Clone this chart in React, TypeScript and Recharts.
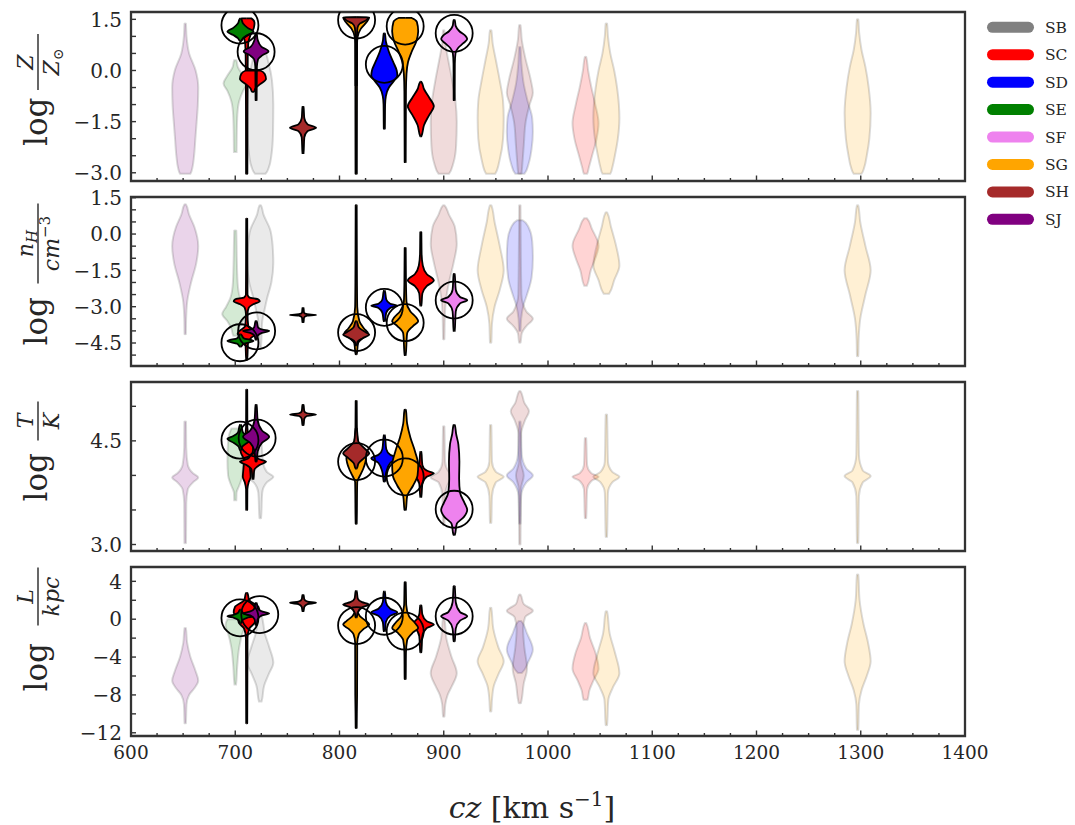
import React from "react";
import { ComposedChart, Area, Scatter, XAxis, YAxis, ReferenceArea } from "recharts";

// ---------- groups ----------
const groups = ["SB", "SC", "SD", "SE", "SF", "SG", "SH", "SJ"];
const groupColors: Record<string, string> = {
  SB: "#808080",
  SC: "#ff0000",
  SD: "#0000ff",
  SE: "#008000",
  SF: "#ee82ee",
  SG: "#ffa500",
  SH: "#a52a2a",
  SJ: "#800080",
};

// ---------- axis ticks ----------
const czMajorTicks = [600, 700, 800, 900, 1000, 1100, 1200, 1300, 1400];
const metallicityTicks = [-3, -2.5, -2, -1.5, -1, -0.5, 0, 0.5, 1, 1.5];
const metallicityLabels = [-3, -1.5, 0, 1.5];
const densityTicks = [-5, -4.5, -4, -3.5, -3, -2.5, -2, -1.5, -1, -0.5, 0, 0.5, 1, 1.5];
const densityLabels = [-4.5, -3, -1.5, 0, 1.5];
const temperatureTicks = [3, 3.5, 4, 4.5, 5];
const temperatureLabels = [3, 4.5];
const lengthTicks = [-12, -10, -8, -6, -4, -2, 0, 2, 4];
const lengthLabels = [-12, -8, -4, 0, 4];

// ---------- posterior violins ----------
// profile: [log value, relative density width]
type Profile = [number, number][];
interface Violin {
  group: string;
  cz: number;
  detected: boolean;
  profile: Profile;
}

const metallicityViolins: Violin[] = [
  { group: "SJ", cz: 652, detected: false, profile: [[1.38, 0.05], [1.0, 0.1], [0.5, 0.3], [0, 0.8], [-0.5, 1.0], [-1.0, 0.97], [-1.5, 0.88], [-2.0, 0.78], [-2.5, 0.68], [-2.85, 0.55], [-3.03, 0.4]] },
  { group: "SE", cz: 700, detected: false, profile: [[0.3, 0.08], [0.1, 0.2], [-0.15, 0.6], [-0.38, 0.9], [-0.6, 0.6], [-0.9, 0.3], [-1.3, 0.16], [-1.8, 0.12], [-2.39, 0.1]] },
  { group: "SB", cz: 724, detected: false, profile: [[0.6, 0.3], [0.2, 0.65], [-0.3, 0.9], [-1.0, 1.0], [-1.8, 0.98], [-2.5, 0.85], [-2.85, 0.65], [-3.03, 0.4]] },
  { group: "SH", cz: 900, detected: false, profile: [[1.18, 0.05], [0.8, 0.12], [0.3, 0.35], [-0.3, 0.65], [-0.9, 0.9], [-1.5, 1.0], [-2.2, 0.95], [-2.7, 0.75], [-3.03, 0.4]] },
  { group: "SG", cz: 945, detected: false, profile: [[1.18, 0.05], [0.8, 0.15], [0.3, 0.4], [-0.3, 0.7], [-0.9, 0.95], [-1.4, 1.0], [-2.0, 0.95], [-2.6, 0.7], [-3.03, 0.35]] },
  { group: "SD", cz: 973, detected: false, profile: [[0.69, 0.05], [0.2, 0.12], [-0.4, 0.3], [-0.9, 0.6], [-1.4, 0.95], [-1.8, 1.0], [-2.3, 0.9], [-2.7, 0.7], [-3.03, 0.35]] },
  { group: "SH", cz: 973, detected: false, profile: [[1.33, 0.05], [0.9, 0.15], [0.4, 0.4], [-0.3, 0.85], [-0.65, 1.0], [-1.0, 0.75], [-1.5, 0.45], [-2.2, 0.3], [-2.7, 0.2], [-3.03, 0.12]] },
  { group: "SC", cz: 1036, detected: false, profile: [[0.4, 0.05], [0.0, 0.2], [-0.5, 0.45], [-1.0, 0.75], [-1.55, 1.0], [-2.0, 0.85], [-2.5, 0.5], [-2.85, 0.25], [-3.03, 0.12]] },
  { group: "SG", cz: 1056, detected: false, profile: [[1.38, 0.05], [1.0, 0.12], [0.5, 0.3], [0.0, 0.6], [-0.5, 0.82], [-1.0, 0.96], [-1.4, 1.0], [-2.0, 0.88], [-2.5, 0.65], [-2.85, 0.45], [-3.03, 0.3]] },
  { group: "SG", cz: 1297, detected: false, profile: [[1.5, 0.05], [1.1, 0.12], [0.6, 0.3], [0.1, 0.6], [-0.5, 0.85], [-1.25, 1.0], [-2.0, 0.9], [-2.5, 0.7], [-2.85, 0.5], [-3.03, 0.3]] },
  { group: "SC", cz: 711, detected: true, profile: [[1.53, 0.35], [1.4, 0.6], [1.25, 0.55], [1.05, 0.3], [0.8, 0.12], [0.4, 0.08], [-1.0, 0.06], [-3.03, 0.05]] },
  { group: "SC", cz: 717, detected: true, profile: [[0.0, 0.55], [-0.1, 0.9], [-0.25, 1.0], [-0.4, 0.55], [-0.52, 0.2], [-0.63, 0.05]] },
  { group: "SC", cz: 878, detected: true, profile: [[-0.33, 0.04], [-0.55, 0.25], [-0.8, 0.65], [-1.05, 1.0], [-1.3, 0.65], [-1.6, 0.25], [-1.93, 0.04]] },
  { group: "SD", cz: 843, detected: true, profile: [[1.09, 0.04], [0.85, 0.12], [0.55, 0.35], [0.25, 0.68], [0.0, 0.95], [-0.15, 1.0], [-0.3, 0.75], [-0.5, 0.35], [-0.75, 0.12], [-1.0, 0.06], [-1.71, 0.04]] },
  { group: "SE", cz: 705, detected: true, profile: [[1.52, 0.04], [1.38, 0.2], [1.25, 0.55], [1.14, 1.0], [1.04, 0.55], [0.95, 0.2], [0.87, 0.04]] },
  { group: "SF", cz: 910, detected: true, profile: [[1.48, 0.04], [1.3, 0.12], [1.15, 0.4], [1.02, 0.85], [0.92, 1.0], [0.8, 0.7], [0.66, 0.3], [0.5, 0.1], [0.2, 0.05], [-0.87, 0.04]] },
  { group: "SG", cz: 816, detected: true, profile: [[1.56, 1.0], [1.42, 0.8], [1.22, 0.35], [1.0, 0.12], [0.8, 0.07], [-1.0, 0.06], [-3.03, 0.05]] },
  { group: "SG", cz: 863, detected: true, profile: [[1.54, 0.5], [1.42, 0.9], [1.15, 1.0], [0.85, 0.85], [0.55, 0.5], [0.25, 0.22], [-0.1, 0.1], [-0.6, 0.06], [-2.69, 0.04]] },
  { group: "SH", cz: 765, detected: true, profile: [[-1.07, 0.04], [-1.4, 0.1], [-1.58, 0.35], [-1.68, 1.0], [-1.78, 0.35], [-1.96, 0.1], [-2.42, 0.04]] },
  { group: "SH", cz: 816, detected: true, profile: [[1.56, 0.95], [1.47, 0.75], [1.38, 0.3], [1.25, 0.1], [1.0, 0.06], [-0.43, 0.05]] },
  { group: "SJ", cz: 720, detected: true, profile: [[1.09, 0.04], [0.9, 0.12], [0.7, 0.4], [0.56, 0.95], [0.45, 0.5], [0.33, 0.15], [0.1, 0.06], [-0.87, 0.04]] },
];

const densityViolins: Violin[] = [
  { group: "SJ", cz: 652, detected: false, profile: [[1.23, 0.05], [0.8, 0.3], [0.3, 0.7], [-0.5, 1.0], [-1.2, 0.85], [-2.0, 0.45], [-2.8, 0.15], [-3.5, 0.07], [-4.14, 0.05]] },
  { group: "SE", cz: 700, detected: false, profile: [[0.15, 0.08], [-1.0, 0.12], [-2.0, 0.18], [-2.6, 0.35], [-3.0, 0.7], [-3.3, 1.0], [-3.6, 0.6], [-3.9, 0.3], [-4.2, 0.15]] },
  { group: "SB", cz: 724, detected: false, profile: [[1.19, 0.05], [0.8, 0.25], [0.2, 0.75], [-0.5, 0.95], [-1.2, 1.0], [-2.0, 0.85], [-2.7, 0.5], [-3.2, 0.3], [-3.6, 0.15], [-4.7, 0.05]] },
  { group: "SH", cz: 900, detected: false, profile: [[1.19, 0.05], [0.8, 0.4], [0.3, 0.85], [-0.4, 1.0], [-1.2, 0.75], [-2.0, 0.4], [-2.8, 0.15], [-3.5, 0.08], [-4.35, 0.05]] },
  { group: "SG", cz: 945, detected: false, profile: [[1.19, 0.05], [0.5, 0.3], [-0.5, 0.7], [-1.5, 1.0], [-2.3, 0.7], [-3.0, 0.3], [-3.7, 0.1], [-4.49, 0.05]] },
  { group: "SD", cz: 973, detected: false, profile: [[0.57, 0.2], [0.3, 0.65], [-0.3, 0.95], [-1.0, 1.0], [-1.8, 0.9], [-2.5, 0.55], [-3.0, 0.25], [-3.5, 0.1], [-4.0, 0.05]] },
  { group: "SH", cz: 973, detected: false, profile: [[1.19, 0.05], [-1.0, 0.08], [-2.5, 0.12], [-3.2, 0.5], [-3.5, 1.0], [-3.8, 0.5], [-4.1, 0.15], [-4.49, 0.05]] },
  { group: "SC", cz: 1036, detected: false, profile: [[0.65, 0.1], [0.2, 0.5], [-0.48, 1.0], [-1.0, 0.75], [-1.5, 0.4], [-2.14, 0.1]] },
  { group: "SG", cz: 1056, detected: false, profile: [[0.9, 0.05], [0.3, 0.35], [-0.5, 0.75], [-1.3, 1.0], [-1.9, 0.6], [-2.47, 0.2]] },
  { group: "SG", cz: 1297, detected: false, profile: [[1.19, 0.05], [0.5, 0.2], [-0.5, 0.6], [-1.5, 1.0], [-2.5, 0.6], [-3.5, 0.2], [-4.3, 0.08], [-5.05, 0.05]] },
  { group: "SC", cz: 711, detected: true, profile: [[0.64, 0.04], [-1.0, 0.05], [-2.5, 0.06], [-2.62, 0.2], [-2.7, 0.9], [-2.78, 1.0], [-2.9, 0.5], [-3.05, 0.15], [-3.3, 0.06], [-3.8, 0.12], [-4.0, 0.55], [-4.12, 0.7], [-4.28, 0.35], [-4.5, 0.1], [-5.18, 0.04]] },
  { group: "SC", cz: 878, detected: true, profile: [[0.08, 0.04], [-0.8, 0.06], [-1.3, 0.15], [-1.65, 0.45], [-1.92, 1.0], [-2.15, 0.45], [-2.45, 0.12], [-2.96, 0.04]] },
  { group: "SD", cz: 843, detected: true, profile: [[-2.35, 0.04], [-2.7, 0.15], [-2.88, 0.45], [-2.96, 1.0], [-3.05, 0.45], [-3.25, 0.15], [-3.6, 0.04]] },
  { group: "SE", cz: 705, detected: true, profile: [[-4.15, 0.04], [-4.3, 0.25], [-4.42, 1.0], [-4.53, 0.25], [-4.65, 0.04]] },
  { group: "SF", cz: 910, detected: true, profile: [[-1.65, 0.04], [-2.3, 0.12], [-2.6, 0.45], [-2.73, 1.0], [-2.86, 0.45], [-3.2, 0.12], [-4.0, 0.04]] },
  { group: "SG", cz: 816, detected: true, profile: [[1.19, 0.04], [-2.0, 0.06], [-3.0, 0.08], [-3.6, 0.25], [-3.9, 0.6], [-4.1, 0.9], [-4.3, 0.5], [-4.5, 0.15], [-4.97, 0.04]] },
  { group: "SG", cz: 863, detected: true, profile: [[-0.57, 0.04], [-2.0, 0.06], [-2.8, 0.1], [-3.2, 0.4], [-3.45, 0.85], [-3.6, 1.0], [-3.8, 0.6], [-4.1, 0.15], [-5.0, 0.04]] },
  { group: "SH", cz: 765, detected: true, profile: [[-3.06, 0.04], [-3.25, 0.08], [-3.31, 0.3], [-3.34, 1.0], [-3.37, 0.3], [-3.45, 0.08], [-3.64, 0.04]] },
  { group: "SH", cz: 816, detected: true, profile: [[-3.6, 0.04], [-3.85, 0.2], [-4.05, 0.7], [-4.15, 1.0], [-4.3, 0.5], [-4.45, 0.1], [-4.6, 0.04]] },
  { group: "SJ", cz: 720, detected: true, profile: [[-3.6, 0.04], [-3.85, 0.15], [-3.95, 0.5], [-4.0, 1.0], [-4.08, 0.45], [-4.2, 0.12], [-4.36, 0.04]] },
];

const temperatureViolins: Violin[] = [
  { group: "SJ", cz: 652, detected: false, profile: [[4.78, 0.06], [4.4, 0.08], [4.15, 0.2], [4.03, 0.6], [3.97, 1.0], [3.9, 0.6], [3.8, 0.2], [3.6, 0.08], [3.02, 0.06]] },
  { group: "SE", cz: 700, detected: false, profile: [[4.68, 0.3], [4.5, 0.55], [4.2, 0.6], [4.0, 0.55], [3.85, 0.3], [3.75, 0.1], [3.64, 0.08]] },
  { group: "SB", cz: 724, detected: false, profile: [[4.44, 0.1], [4.2, 0.2], [4.05, 0.5], [3.98, 1.0], [3.9, 0.5], [3.75, 0.15], [3.38, 0.06]] },
  { group: "SH", cz: 900, detected: false, profile: [[4.71, 0.05], [4.2, 0.1], [4.05, 0.4], [3.97, 1.0], [3.9, 0.4], [3.7, 0.1], [3.28, 0.05]] },
  { group: "SG", cz: 945, detected: false, profile: [[4.73, 0.05], [4.2, 0.1], [4.05, 0.4], [3.98, 1.0], [3.9, 0.4], [3.7, 0.1], [3.31, 0.05]] },
  { group: "SD", cz: 973, detected: false, profile: [[4.78, 0.05], [4.3, 0.15], [4.1, 0.5], [4.0, 1.0], [3.9, 0.5], [3.7, 0.1], [3.3, 0.05]] },
  { group: "SH", cz: 973, detected: false, profile: [[5.22, 0.05], [5.05, 0.35], [4.93, 0.7], [4.8, 0.4], [4.6, 0.1], [4.2, 0.08], [4.0, 0.3], [3.8, 0.08], [3.0, 0.05]] },
  { group: "SC", cz: 1036, detected: false, profile: [[4.54, 0.05], [4.15, 0.12], [4.03, 0.45], [3.98, 1.0], [3.92, 0.45], [3.8, 0.12], [3.38, 0.05]] },
  { group: "SG", cz: 1056, detected: false, profile: [[4.88, 0.05], [4.2, 0.12], [4.05, 0.45], [3.98, 1.0], [3.9, 0.45], [3.75, 0.12], [3.11, 0.05]] },
  { group: "SG", cz: 1297, detected: false, profile: [[5.22, 0.05], [4.3, 0.1], [4.07, 0.4], [3.99, 1.0], [3.9, 0.4], [3.7, 0.1], [3.02, 0.05]] },
  { group: "SC", cz: 711, detected: true, profile: [[5.24, 0.04], [4.7, 0.05], [4.52, 0.2], [4.42, 0.5], [4.33, 0.45], [4.22, 0.2], [4.1, 0.25], [3.98, 0.3], [3.9, 0.15], [3.8, 0.05], [3.5, 0.04]] },
  { group: "SC", cz: 717, detected: true, profile: [[4.32, 0.05], [4.24, 0.4], [4.2, 1.0], [4.15, 0.5], [4.08, 0.1], [3.95, 0.04]] },
  { group: "SC", cz: 878, detected: true, profile: [[4.34, 0.04], [4.15, 0.12], [4.07, 0.45], [4.03, 1.0], [3.98, 0.45], [3.88, 0.12], [3.69, 0.04]] },
  { group: "SD", cz: 843, detected: true, profile: [[4.58, 0.04], [4.38, 0.15], [4.3, 0.45], [4.25, 1.0], [4.18, 0.45], [4.05, 0.15], [3.91, 0.04]] },
  { group: "SE", cz: 705, detected: true, profile: [[4.73, 0.04], [4.62, 0.2], [4.57, 0.55], [4.53, 1.0], [4.47, 0.5], [4.42, 0.15], [4.37, 0.04]] },
  { group: "SF", cz: 910, detected: true, profile: [[4.73, 0.05], [4.6, 0.15], [4.45, 0.32], [4.2, 0.4], [3.95, 0.38], [3.75, 0.45], [3.6, 0.8], [3.5, 1.0], [3.4, 0.75], [3.3, 0.2], [3.14, 0.05]] },
  { group: "SG", cz: 816, detected: true, profile: [[5.08, 0.04], [4.6, 0.06], [4.4, 0.3], [4.25, 0.75], [4.1, 0.55], [4.0, 0.3], [3.9, 0.08], [3.3, 0.04]] },
  { group: "SG", cz: 863, detected: true, profile: [[4.95, 0.05], [4.75, 0.15], [4.55, 0.4], [4.35, 0.75], [4.15, 1.0], [4.0, 0.95], [3.85, 0.6], [3.7, 0.15], [3.5, 0.05]] },
  { group: "SH", cz: 765, detected: true, profile: [[5.02, 0.04], [4.93, 0.1], [4.9, 0.3], [4.88, 1.0], [4.86, 0.3], [4.82, 0.1], [4.73, 0.04]] },
  { group: "SH", cz: 816, detected: true, profile: [[4.68, 0.04], [4.5, 0.15], [4.38, 0.7], [4.32, 1.0], [4.25, 0.6], [4.18, 0.2], [4.1, 0.04]] },
  { group: "SJ", cz: 720, detected: true, profile: [[5.02, 0.04], [4.8, 0.12], [4.65, 0.45], [4.56, 1.0], [4.47, 0.45], [4.35, 0.12], [4.2, 0.04]] },
];

const lengthViolins: Violin[] = [
  { group: "SJ", cz: 652, detected: false, profile: [[-0.92, 0.05], [-2.5, 0.15], [-4.0, 0.4], [-5.5, 0.8], [-6.5, 1.0], [-7.3, 0.7], [-8.0, 0.3], [-9.0, 0.1], [-11.0, 0.05]] },
  { group: "SE", cz: 700, detected: false, profile: [[0.0, 0.6], [-0.7, 0.75], [-1.5, 0.55], [-3.0, 0.3], [-5.0, 0.15], [-6.9, 0.06]] },
  { group: "SB", cz: 724, detected: false, profile: [[0.35, 0.1], [-1.5, 0.35], [-3.0, 0.7], [-4.6, 1.0], [-5.8, 0.65], [-7.0, 0.3], [-8.69, 0.1]] },
  { group: "SH", cz: 900, detected: false, profile: [[0.14, 0.05], [-2.0, 0.2], [-4.0, 0.6], [-5.7, 1.0], [-7.0, 0.65], [-8.0, 0.3], [-9.0, 0.12], [-10.3, 0.05]] },
  { group: "SG", cz: 945, detected: false, profile: [[1.2, 0.05], [-1.0, 0.2], [-3.0, 0.6], [-4.45, 1.0], [-5.8, 0.6], [-7.0, 0.25], [-8.5, 0.1], [-9.75, 0.05]] },
  { group: "SD", cz: 973, detected: false, profile: [[-0.18, 0.1], [-1.5, 0.55], [-3.2, 1.0], [-4.5, 0.65], [-5.69, 0.15]] },
  { group: "SH", cz: 973, detected: false, profile: [[2.6, 0.05], [1.6, 0.3], [0.9, 1.0], [0.2, 0.4], [-1.0, 0.25], [-3.0, 0.35], [-5.2, 0.55], [-6.8, 0.3], [-8.87, 0.08]] },
  { group: "SC", cz: 1036, detected: false, profile: [[-0.39, 0.05], [-2.0, 0.35], [-3.5, 0.75], [-5.2, 1.0], [-6.5, 0.6], [-7.5, 0.3], [-8.51, 0.15]] },
  { group: "SG", cz: 1056, detected: false, profile: [[0.85, 0.05], [-1.5, 0.25], [-3.5, 0.65], [-5.7, 1.0], [-7.2, 0.5], [-8.5, 0.15], [-11.2, 0.05]] },
  { group: "SG", cz: 1297, detected: false, profile: [[4.72, 0.05], [2.0, 0.15], [-0.5, 0.45], [-2.5, 0.8], [-4.45, 1.0], [-6.0, 0.7], [-7.5, 0.3], [-9.0, 0.1], [-11.7, 0.05]] },
  { group: "SC", cz: 711, detected: true, profile: [[2.79, 0.05], [2.0, 0.2], [1.3, 0.9], [0.7, 1.0], [0.2, 0.7], [-0.4, 0.6], [-1.0, 0.2], [-2.0, 0.06], [-11.0, 0.04]] },
  { group: "SC", cz: 878, detected: true, profile: [[1.45, 0.04], [0.5, 0.12], [-0.2, 0.45], [-0.57, 1.0], [-0.95, 0.45], [-1.8, 0.12], [-3.5, 0.04]] },
  { group: "SD", cz: 843, detected: true, profile: [[2.9, 0.04], [1.8, 0.12], [1.1, 0.45], [0.74, 1.0], [0.35, 0.45], [-0.3, 0.12], [-1.27, 0.04]] },
  { group: "SE", cz: 705, detected: true, profile: [[1.0, 0.04], [0.65, 0.2], [0.45, 0.55], [0.31, 1.0], [0.15, 0.5], [-0.1, 0.15], [-0.4, 0.04]] },
  { group: "SF", cz: 910, detected: true, profile: [[3.49, 0.04], [1.8, 0.12], [0.75, 0.45], [0.32, 1.0], [-0.15, 0.45], [-1.0, 0.12], [-2.33, 0.04]] },
  { group: "SG", cz: 816, detected: true, profile: [[0.8, 0.04], [0.3, 0.3], [-0.2, 0.75], [-0.57, 1.0], [-1.0, 0.6], [-1.6, 0.2], [-2.5, 0.08], [-8.0, 0.07], [-10.0, 0.05], [-11.5, 0.04]] },
  { group: "SG", cz: 863, detected: true, profile: [[3.92, 0.04], [1.5, 0.08], [0.3, 0.3], [-0.4, 0.75], [-0.92, 1.0], [-1.4, 0.6], [-2.2, 0.15], [-3.5, 0.06], [-6.32, 0.04]] },
  { group: "SH", cz: 765, detected: true, profile: [[2.55, 0.04], [2.1, 0.1], [1.85, 0.35], [1.73, 1.0], [1.6, 0.35], [1.3, 0.1], [0.85, 0.04]] },
  { group: "SH", cz: 816, detected: true, profile: [[2.96, 0.04], [2.2, 0.12], [1.8, 0.45], [1.55, 1.0], [1.25, 0.45], [0.7, 0.12], [0.2, 0.04]] },
  { group: "SJ", cz: 720, detected: true, profile: [[1.7, 0.04], [1.1, 0.15], [0.8, 0.5], [0.6, 1.0], [0.4, 0.45], [0.0, 0.12], [-0.6, 0.04]] },
];

// ---------- ringed best solutions [cz, log value] ----------
const metallicityRings: [number, number][] = [[704.5, 1.33], [720, 0.55], [816.4, 1.48], [843, 0.18], [863, 1.3], [910, 1.09]];
const densityRings: [number, number][] = [[704.5, -4.49], [720.5, -4.0], [816.4, -4.07], [843, -3.03], [863, -3.66], [910, -2.73]];
const temperatureRings: [number, number][] = [[704.5, 4.51], [721, 4.54], [816.4, 4.2], [843, 4.25], [863, 3.98], [910, 3.51]];
const lengthRings: [number, number][] = [[704.5, 0.14], [723.5, 0.49], [816.4, -0.67], [843, 0.31], [863, -1.27], [910, 0.32]];

// ---------- layout ----------
const FIG_W = 1075;
const PLOT_LEFT = 131;
const PLOT_RIGHT = 965;
const PLOT_H = 169;
const PAD_TOP = 14;
const VIOLIN_HALF = 12.5; // half of the maximum violin width, in km/s
const FONT = "'DejaVu Serif', serif";
const INK = "#262626";

const czTicks: number[] = [];
czMajorTicks.forEach((t, i) => {
  czTicks.push(t);
  if (i < czMajorTicks.length - 1) czTicks.push(t + 25, t + 50, t + 75);
});

function violinRows(v: Violin) {
  const p = v.profile;
  const top = p[0][0];
  const bottom = p[p.length - 1][0];
  const eps = (top - bottom) * 1e-4;
  const rows = p.map(([y, w]) => ({ v: y, band: [v.cz - w * VIOLIN_HALF, v.cz + w * VIOLIN_HALF] }));
  // close the flat ends of the violin so the outline runs across them
  return [{ v: top + eps, band: [v.cz, v.cz] }, ...rows, { v: bottom - eps, band: [v.cz, v.cz] }];
}

const fmtSigned = (s: string) => s.replace("-", "\u2212");

interface PanelSpec {
  key: string;
  top: number;
  domain: [number, number];
  ticks: number[];
  labels: number[];
  digits: number;
  violins: Violin[];
  rings: [number, number][];
  showXLabels: boolean;
}

const panels: PanelSpec[] = [
  { key: "Z", top: 12, domain: [-3.241, 1.715], ticks: metallicityTicks, labels: metallicityLabels, digits: 1, violins: metallicityViolins, rings: metallicityRings, showXLabels: false },
  { key: "n", top: 197, domain: [-5.45, 1.53], ticks: densityTicks, labels: densityLabels, digits: 1, violins: densityViolins, rings: densityRings, showXLabels: false },
  { key: "T", top: 382, domain: [2.906, 5.352], ticks: temperatureTicks, labels: temperatureLabels, digits: 1, violins: temperatureViolins, rings: temperatureRings, showXLabels: false },
  { key: "L", top: 567, domain: [-12.34, 5.515], ticks: lengthTicks, labels: lengthLabels, digits: 0, violins: lengthViolins, rings: lengthRings, showXLabels: true },
];

const YTick = (props: any) => {
  const { x, y, payload, labels, digits } = props;
  const val = payload.value as number;
  const show = labels.some((l: number) => Math.abs(l - val) < 1e-6);
  return (
    <g>
      <line x1={x} x2={x + 5} y1={y} y2={y} stroke="#333" strokeWidth={1.4} />
      {show && (
        <text x={x - 9} y={y} dy="0.36em" textAnchor="end" fontFamily={FONT} fontSize={20} fill={INK}>
          {fmtSigned(val.toFixed(digits))}
        </text>
      )}
    </g>
  );
};

const XTick = (props: any) => {
  const { x, y, payload, showLabels } = props;
  const val = payload.value as number;
  const major = val % 100 === 0;
  return (
    <g>
      <line x1={x} x2={x} y1={y} y2={y - (major ? 5.5 : 3)} stroke="#333" strokeWidth={1.4} />
      {showLabels && major && (
        <text x={x} y={y + 23} textAnchor="middle" fontFamily={FONT} fontSize={18.5} fill={INK}>
          {val}
        </text>
      )}
    </g>
  );
};

const Ring = (props: any) => (
  <circle cx={props.cx} cy={props.cy} r={18.5} fill="none" stroke="#000" strokeWidth={1.8} />
);

function Panel({ spec }: { spec: PanelSpec }) {
  const xAxisH = spec.showXLabels ? 40 : 6;
  const height = PAD_TOP + PLOT_H + xAxisH;
  const order = (v: Violin) => groups.indexOf(v.group);
  const faded = spec.violins.filter((v) => !v.detected).sort((a, b) => order(a) - order(b));
  const strong = spec.violins.filter((v) => v.detected).sort((a, b) => order(a) - order(b));
  const rings = spec.rings.map(([cz, v]) => ({ cz, v }));
  return (
    <div style={{ position: "absolute", left: 0, top: spec.top - PAD_TOP }}>
      <ComposedChart
        layout="vertical"
        width={FIG_W}
        height={height}
        margin={{ top: PAD_TOP, right: FIG_W - PLOT_RIGHT, bottom: 0, left: 0 }}
      >
        <XAxis
          type="number"
          dataKey="cz"
          domain={[600, 1400]}
          allowDataOverflow
          ticks={czTicks}
          interval={0}
          height={xAxisH}
          axisLine={false}
          tickLine={false}
          tickSize={0}
          tickMargin={0}
          tick={<XTick showLabels={spec.showXLabels} />}
        />
        <YAxis
          type="number"
          dataKey="v"
          domain={spec.domain}
          reversed
          allowDataOverflow
          ticks={spec.ticks}
          interval={0}
          width={PLOT_LEFT}
          axisLine={false}
          tickLine={false}
          tickSize={0}
          tickMargin={0}
          tick={<YTick labels={spec.labels} digits={spec.digits} />}
        />
        {faded.map((v, i) => (
          <Area
            key={`f${i}`}
            data={violinRows(v)}
            dataKey="band"
            type="monotone"
            fill={groupColors[v.group]}
            fillOpacity={0.17}
            stroke="#000"
            strokeOpacity={0.14}
            strokeWidth={2}
            dot={false}
            activeDot={false}
            isAnimationActive={false}
          />
        ))}
        {strong.map((v, i) => (
          <Area
            key={`s${i}`}
            data={violinRows(v)}
            dataKey="band"
            type="monotone"
            fill={groupColors[v.group]}
            fillOpacity={1}
            stroke="#000"
            strokeWidth={1.8}
            dot={false}
            activeDot={false}
            isAnimationActive={false}
          />
        ))}
        <Scatter data={rings} shape={<Ring />} isAnimationActive={false} />
        <ReferenceArea
          x1={600}
          x2={1400}
          y1={spec.domain[0]}
          y2={spec.domain[1]}
          fill="none"
          fillOpacity={0}
          stroke="#333"
          strokeWidth={2.3}
          ifOverflow="visible"
        />
      </ComposedChart>
    </div>
  );
}

// ---------- figure text: axis titles and legend ----------
function Titles() {
  const it = { fontStyle: "italic" as const };
  return (
    <svg
      width={FIG_W}
      height={825}
      style={{ position: "absolute", left: 0, top: 0, pointerEvents: "none" }}
      fontFamily={FONT}
      fill={INK}
    >
      {/* log Z / Z_sun */}
      <g transform="translate(47, 96) rotate(-90)">
        <text x={-50} y={0} fontSize={31}>log</text>
        <line x1={6} x2={62} y1={-9} y2={-9} stroke={INK} strokeWidth={1.4} />
        <text x={34} y={-14} fontSize={22} textAnchor="middle" style={it}>Z</text>
        <text x={34} y={12} fontSize={22} textAnchor="middle">
          <tspan style={it}>Z</tspan>
          <tspan fontSize={14} dy={4}>{"\u2299"}</tspan>
        </text>
      </g>
      {/* log n_H / cm^-3 */}
      <g transform="translate(47, 281.5) rotate(-90)">
        <text x={-64} y={0} fontSize={31}>log</text>
        <line x1={-2} x2={78} y1={-9} y2={-9} stroke={INK} strokeWidth={1.4} />
        <text x={38} y={-14} fontSize={22} textAnchor="middle">
          <tspan style={it}>n</tspan>
          <tspan fontSize={15} dy={4} style={it}>H</tspan>
        </text>
        <text x={38} y={12} fontSize={22} textAnchor="middle">
          <tspan style={it}>cm</tspan>
          <tspan fontSize={15} dy={-9}>{"\u22123"}</tspan>
        </text>
      </g>
      {/* log T / K */}
      <g transform="translate(47, 466.5) rotate(-90)">
        <text x={-35} y={0} fontSize={31}>log</text>
        <line x1={26} x2={65} y1={-9} y2={-9} stroke={INK} strokeWidth={1.4} />
        <text x={45.5} y={-14} fontSize={22} textAnchor="middle" style={it}>T</text>
        <text x={45.5} y={12} fontSize={22} textAnchor="middle" style={it}>K</text>
      </g>
      {/* log L / kpc */}
      <g transform="translate(47, 651.5) rotate(-90)">
        <text x={-40} y={0} fontSize={31}>log</text>
        <line x1={26} x2={84} y1={-9} y2={-9} stroke={INK} strokeWidth={1.4} />
        <text x={55} y={-14} fontSize={22} textAnchor="middle" style={it}>L</text>
        <text x={55} y={12} fontSize={22} textAnchor="middle" style={it}>kpc</text>
      </g>
      {/* cz [km s^-1] */}
      <text x={532} y={818} fontSize={30} textAnchor="middle">
        <tspan style={it}>cz</tspan>
        <tspan> [km s</tspan>
        <tspan fontSize={20} dy={-12}>{"\u22121"}</tspan>
        <tspan dy={12}>]</tspan>
      </text>
      {/* legend */}
      {groups.map((g, i) => {
        const y = 27.3 + i * 27.43;
        return (
          <g key={g}>
            <line x1={992.5} x2={1028.5} y1={y} y2={y} stroke={groupColors[g]} strokeWidth={11} strokeLinecap="round" />
            <text x={1045} y={y} dy="0.36em" fontSize={15.5}>{g}</text>
          </g>
        );
      })}
    </svg>
  );
}

export default function App() {
  return (
    <div style={{ position: "absolute", left: 0, top: 0, width: FIG_W, height: 825, background: "#fff" }}>
      {panels.map((p) => (
        <Panel key={p.key} spec={p} />
      ))}
      <Titles />
    </div>
  );
}
